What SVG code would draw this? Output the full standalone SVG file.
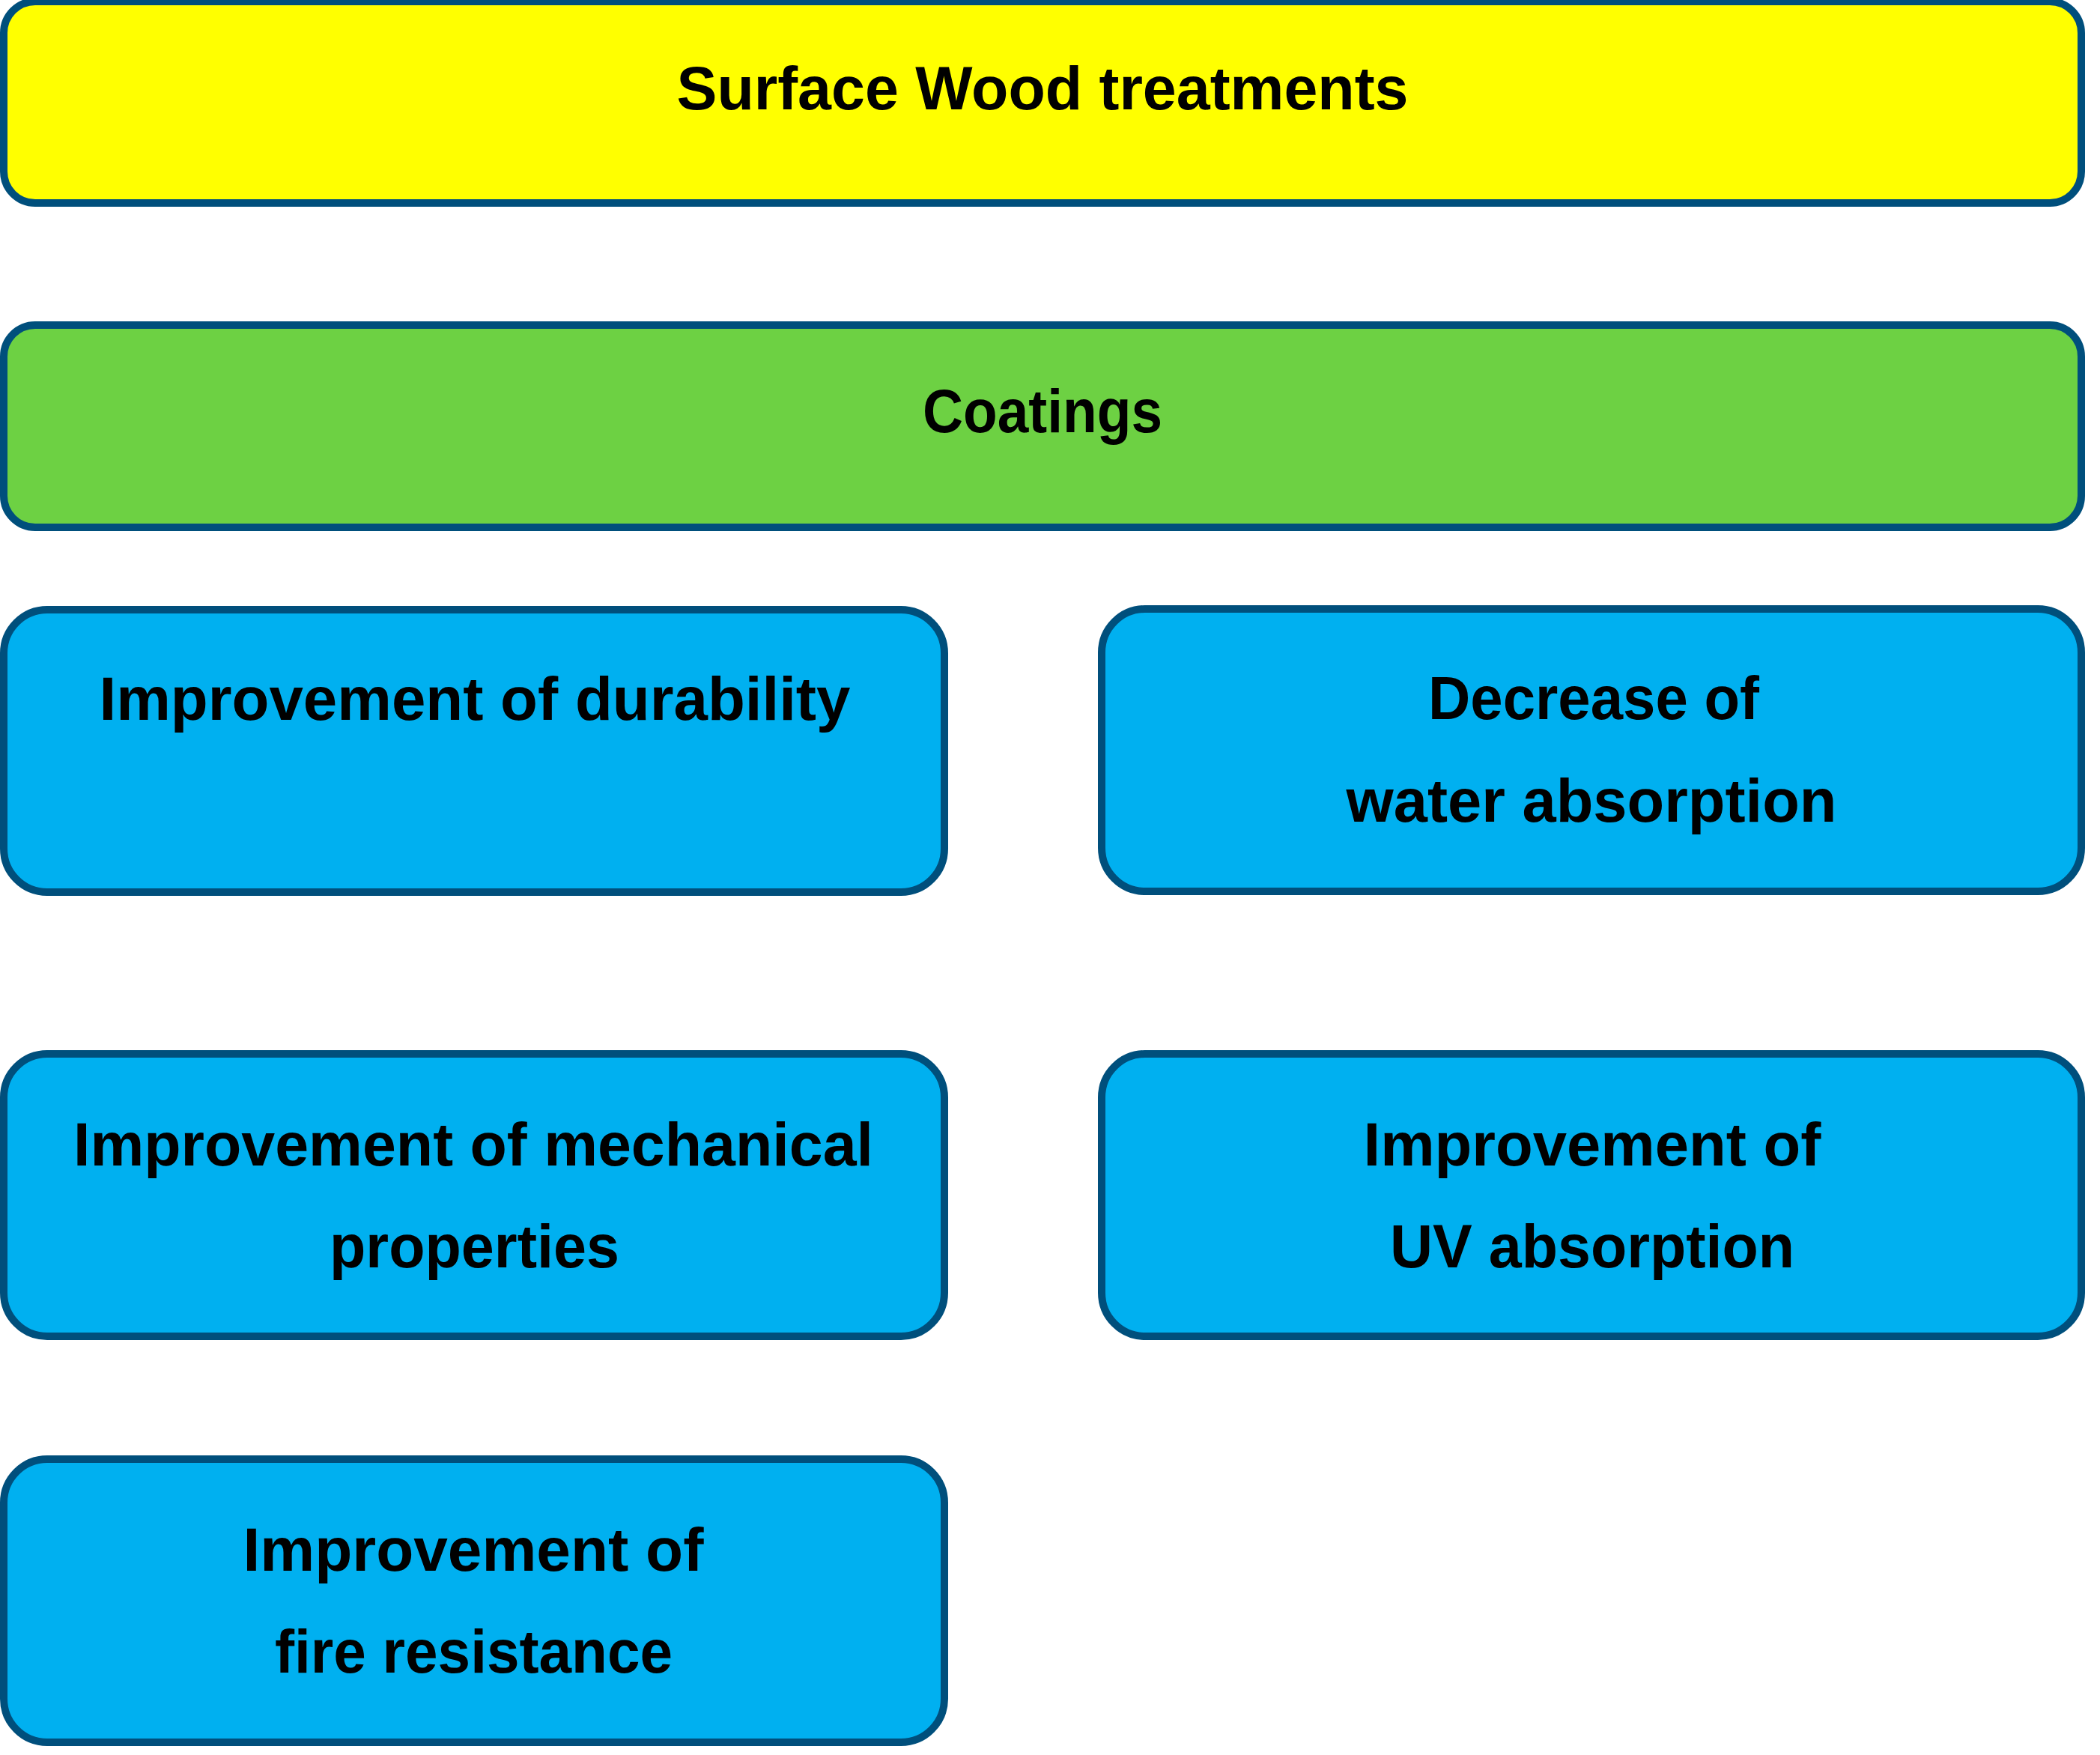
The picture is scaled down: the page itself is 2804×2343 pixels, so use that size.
<svg xmlns="http://www.w3.org/2000/svg" width="2804" height="2343" viewBox="0 0 2804 2343">
  <style>
    .box { stroke: #004F7C; stroke-width: 10; }
    .yellow { fill: #FFFF00; }
    .green { fill: #6DD143; }
    .blue { fill: #00B0F0; }
    .label { font-family: "Liberation Sans", Arial, sans-serif; font-weight: bold; font-size: 82px; fill: #000000; text-anchor: middle; }
  </style>
  <rect x="0" y="0" width="2804" height="2343" fill="#FFFFFF"/>
  <g id="connectors"></g>
  <g id="node-surface">
    <rect class="box yellow" x="5" y="2" width="2774" height="269" rx="42" ry="42"/>
    <text class="label" x="1392" y="146" textLength="977" lengthAdjust="spacingAndGlyphs">Surface Wood treatments</text>
  </g>
  <g id="node-coatings">
    <rect class="box green" x="5" y="434" width="2774" height="270" rx="42" ry="42"/>
    <text class="label" x="1392" y="577" textLength="320" lengthAdjust="spacingAndGlyphs">Coatings</text>
  </g>
  <g id="node-durability">
    <rect class="box blue" x="5" y="814" width="1256" height="377" rx="58" ry="58"/>
    <text class="label" x="634" y="961" textLength="1003" lengthAdjust="spacingAndGlyphs">Improvement of durability</text>
  </g>
  <g id="node-water">
    <rect class="box blue" x="1471" y="813" width="1308" height="377" rx="58" ry="58"/>
    <text class="label" x="2128" y="960" textLength="442" lengthAdjust="spacingAndGlyphs">Decrease of</text>
    <text class="label" x="2125" y="1097" textLength="655" lengthAdjust="spacingAndGlyphs">water absorption</text>
  </g>
  <g id="node-mechanical">
    <rect class="box blue" x="5" y="1407" width="1256" height="377" rx="58" ry="58"/>
    <text class="label" x="632" y="1556" textLength="1068" lengthAdjust="spacingAndGlyphs">Improvement of mechanical</text>
    <text class="label" x="633.5" y="1692" textLength="387" lengthAdjust="spacingAndGlyphs">properties</text>
  </g>
  <g id="node-uv">
    <rect class="box blue" x="1471" y="1407" width="1308" height="377" rx="58" ry="58"/>
    <text class="label" x="2126" y="1556" textLength="611" lengthAdjust="spacingAndGlyphs">Improvement of</text>
    <text class="label" x="2126" y="1692" textLength="540" lengthAdjust="spacingAndGlyphs">UV absorption</text>
  </g>
  <g id="node-fire">
    <rect class="box blue" x="5" y="1948" width="1256" height="378" rx="58" ry="58"/>
    <text class="label" x="632" y="2097" textLength="615" lengthAdjust="spacingAndGlyphs">Improvement of</text>
    <text class="label" x="632.5" y="2233" textLength="531" lengthAdjust="spacingAndGlyphs">fire resistance</text>
  </g>
</svg>
